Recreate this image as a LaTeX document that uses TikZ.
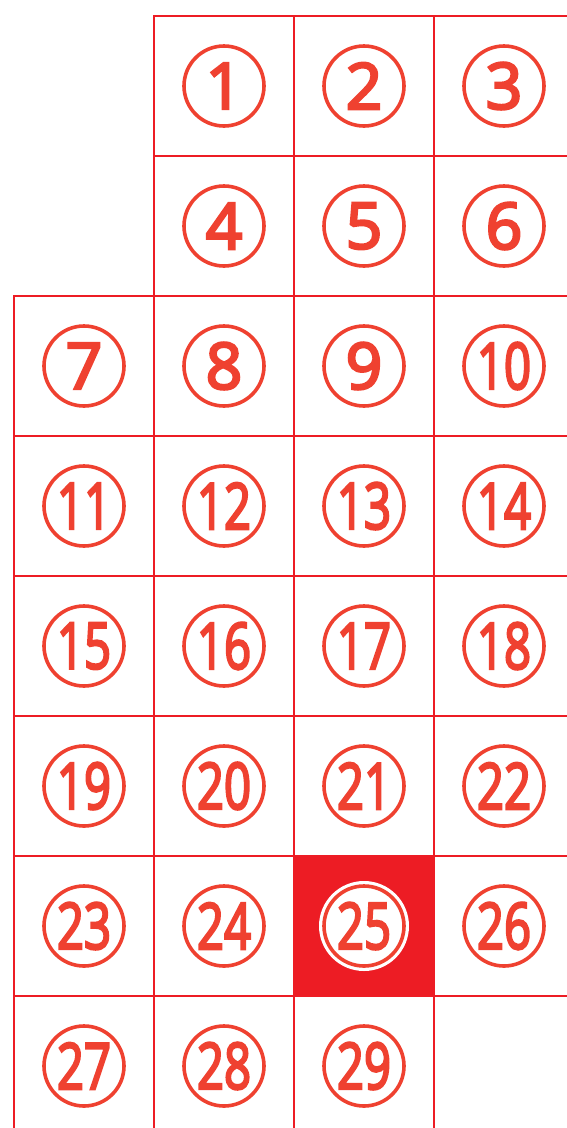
\documentclass[tikz,border=0pt]{standalone}
\usepackage{fontspec}
\setmainfont{Open Sans}
\newfontfamily\ringfont{Open Sans}[FakeBold=4]
\definecolor{gridred}{HTML}{ED1C24}
\definecolor{ringred}{HTML}{EF4130}
\tikzset{
  cellbox/.style={draw=gridred,line width=2,minimum size=140,inner sep=0,outer sep=0},
  numring/.style={circle,draw=ringred,line width=3.6,minimum size=80,inner sep=0,
    text=ringred,font=\fontsize{64}{64}\ringfont},
  halo/.style={circle,fill=white,minimum size=90,inner sep=0},
}
\newcommand{\slimnum}[1]{\scalebox{0.74}[1]{#1}}

\begin{document}
\begin{tikzpicture}[x=1pt,y=1pt]
  \useasboundingbox (0,0) rectangle (567,-1128);
  \clip (0,0) rectangle (567,-1128);
  % cells: number/column/row
  \foreach \n/\c/\r in {1/1/0,2/2/0,3/3/0,4/1/1,5/2/1,6/3/1,
      7/0/2,8/1/2,9/2/2,10/3/2,11/0/3,12/1/3,13/2/3,14/3/3,
      15/0/4,16/1/4,17/2/4,18/3/4,19/0/5,20/1/5,21/2/5,22/3/5,
      23/0/6,24/1/6,26/3/6,27/0/7,28/1/7,29/2/7}{
    \node[cellbox] (cell\n) at (84+140*\c,-86-140*\r) {};
    \node[numring] (num\n) at (cell\n) {\ifnum\n>9 \slimnum{\n}\else\n\fi};
  }
  % the marked cell
  \node[cellbox,fill=gridred] (cell25) at (84+140*2,-86-140*6) {};
  \node[halo] (halo25) at (cell25) {};
  \node[numring] (num25) at (cell25) {\slimnum{25}};
\end{tikzpicture}
\end{document}
